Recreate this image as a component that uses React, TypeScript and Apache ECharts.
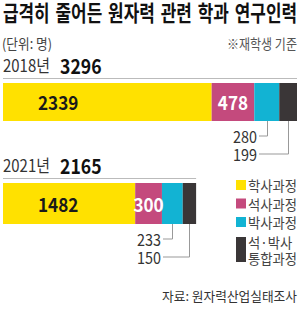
import React, { useEffect, useRef } from 'react';
import * as echarts from 'echarts';

// ---- data ----
const years = ['2018년', '2021년'];
const seriesNames = ['학사과정', '석사과정', '박사과정', '석·박사 통합과정'];
const bachelor = [2339, 1482];
const master = [478, 300];
const doctor = [280, 233];
const integrated = [199, 150];
const totals = [3296, 2165];
const legendLines = [['학사과정'], ['석사과정'], ['박사과정'], ['석·박사', '통합과정']];
const titleParts = ['급격히 줄어든 원자력', '관련 학과 연구인력'];

const colors = ['#FFE100', '#C44A7D', '#12B3D3', '#3A3637'];
const FONT = '"Noto Sans CJK KR", "Noto Sans", sans-serif';
const TITLE_FONT = '"DejaVu Sans", "Noto Sans CJK KR", sans-serif';

const values = [bachelor, master, doctor, integrated];

// layout
const gridTops = [83, 183];
const gridHeights = [38, 41];
const leaderTextRight = [257, 161];

let ctx: CanvasRenderingContext2D | null = null;
function measure(text: string, font: string) {
  if (!ctx) ctx = document.createElement('canvas').getContext('2d');
  ctx!.font = font;
  return ctx!.measureText(text).width;
}
const fontOf = (size: number, weight = 'normal', family = FONT) => `${weight} ${size}px ${family}`;

function txt(x: number, y: number, text: string, o: any) {
  const align = o.align || 'left';
  return {
    type: 'text',
    x,
    y,
    scaleX: o.sx ?? 1,
    silent: true,
    z: 10,
    style: {
      text,
      x: 0,
      y: 0,
      fill: o.color || '#222',
      font: fontOf(o.size, o.weight || 'normal', o.family || FONT),
      align,
      textAlign: align,
      verticalAlign: 'middle',
      textVerticalAlign: 'middle',
    },
  };
}
// scale factor so that text fits a target width
const fit = (text: string, size: number, weight: string, w: number) => w / measure(text, fontOf(size, weight));

export default function App() {
  const ref = useRef<HTMLDivElement>(null);
  useEffect(() => {
    document.body.style.margin = '0';
    const chart = echarts.init(ref.current!, null, { renderer: 'svg' });
    const maxTotal = Math.max(...totals);
    const grids = years.map((_, g) => ({ left: 3, width: 294, top: gridTops[g], height: gridHeights[g] }));
    const xAxes = years.map((_, g) => ({ type: 'value', gridIndex: g, min: 0, max: maxTotal, show: false }));
    const yAxes = years.map((y, g) => ({ type: 'category', gridIndex: g, data: [y], show: false }));
    const series: any[] = [];
    years.forEach((_, g) => {
      values.forEach((arr, k) => {
        series.push({
          type: 'bar',
          name: seriesNames[k],
          xAxisIndex: g,
          yAxisIndex: g,
          stack: 's' + g,
          barWidth: '100%',
          silent: true,
          itemStyle: { color: colors[k] },
          data: [arr[g]],
        });
      });
    });
    chart.setOption({
      animation: false,
      backgroundColor: '#fff',
      grid: grids,
      xAxis: xAxes,
      yAxis: yAxes,
      series,
    });

    const px = (g: number, v: number) => (chart.convertToPixel({ gridIndex: g } as any, [v, 0]) as number[])[0];
    const graphic: any[] = [];

    // title (two parts so that each stays inside the page)
    const tSize = 22;
    const tf = fontOf(tSize, 'bold', TITLE_FONT);
    const w1 = measure(titleParts[0], tf);
    const w2 = measure(titleParts[1], tf);
    const ws = measure(' ', tf);
    const ts = 294 / (w1 + ws + w2);
    graphic.push(txt(3, 14, titleParts[0], { size: tSize, weight: 'bold', sx: ts, color: '#111', family: TITLE_FONT }));
    graphic.push(txt(297, 14, titleParts[1], { size: tSize, weight: 'bold', sx: ts, color: '#111', align: 'right', family: TITLE_FONT }));

    graphic.push(txt(2, 43.5, '(단위: 명)', { size: 14, sx: fit('(단위: 명)', 14, 'normal', 50), color: '#444' }));
    graphic.push(txt(297, 43.5, '※재학생 기준', { size: 14, sx: fit('※재학생 기준', 14, 'normal', 70), color: '#555', align: 'right' }));

    years.forEach((y, g) => {
      const top = gridTops[g];
      const bottom = top + gridHeights[g];
      const cy = top + gridHeights[g] / 2;
      graphic.push(txt(3, top - 18, y, { size: 17, sx: 0.88, color: '#333' }));
      graphic.push(txt(60, top - 18, String(totals[g]), { size: 20, weight: 'bold', sx: 0.88, color: '#111' }));
      graphic.push({
        type: 'line', silent: true,
        shape: { x1: px(g, 0), y1: top - 4.5, x2: px(g, totals[g]), y2: top - 4.5 },
        style: { stroke: '#bbb', lineWidth: 1 },
      });
      // inside labels
      graphic.push(txt(px(g, 0) + 35, cy, String(bachelor[g]), { size: 19, weight: 'bold', sx: 0.9, color: '#1a1a1a' }));
      const mc = px(g, bachelor[g] + master[g] / 2);
      graphic.push(txt(mc, cy, String(master[g]), { size: 19, weight: 'bold', sx: 0.9, color: '#fff', align: 'center' }));
      // leader labels
      const leaders = [
        { v: doctor[g], c: px(g, bachelor[g] + master[g] + doctor[g] / 2), y: bottom + 15 },
        { v: integrated[g], c: px(g, bachelor[g] + master[g] + doctor[g] + integrated[g] / 2), y: bottom + 33 },
      ];
      leaders.forEach((l) => {
        graphic.push(txt(leaderTextRight[g], l.y, String(l.v), { size: 16, sx: 0.9, color: '#333', align: 'right' }));
        graphic.push({
          type: 'polyline', silent: true,
          shape: { points: [[leaderTextRight[g] + 2, l.y], [Math.round(l.c) + 0.5, l.y], [Math.round(l.c) + 0.5, bottom]] },
          style: { stroke: '#999', lineWidth: 1, fill: 'none' },
        });
      });
    });

    // legend
    const legendY = [185, 203.5, 222];
    const ls = fit('학사과정', 14, 'normal', 49);
    legendLines.forEach((lines, k) => {
      if (lines.length === 1) {
        graphic.push({ type: 'rect', silent: true, shape: { x: 236, y: legendY[k] - 5, width: 10, height: 10 }, style: { fill: colors[k] } });
        graphic.push(txt(248, legendY[k], lines[0], { size: 14, sx: ls, color: '#444' }));
      } else {
        graphic.push({ type: 'rect', silent: true, shape: { x: 236, y: 237, width: 10, height: 25 }, style: { fill: colors[k] } });
        graphic.push(txt(248, 242, lines[0], { size: 14, sx: ls, color: '#444' }));
        graphic.push(txt(248, 258, lines[1], { size: 14, sx: ls, color: '#444' }));
      }
    });

    const src = '자료: 원자력산업실태조사';
    graphic.push(txt(297, 295, src, { size: 13, sx: fit(src, 13, 'normal', 135), color: '#333', align: 'right' }));

    chart.setOption({ graphic });
    return () => chart.dispose();
  }, []);
  return <div ref={ref} style={{ width: 300, height: 329 }} />;
}
